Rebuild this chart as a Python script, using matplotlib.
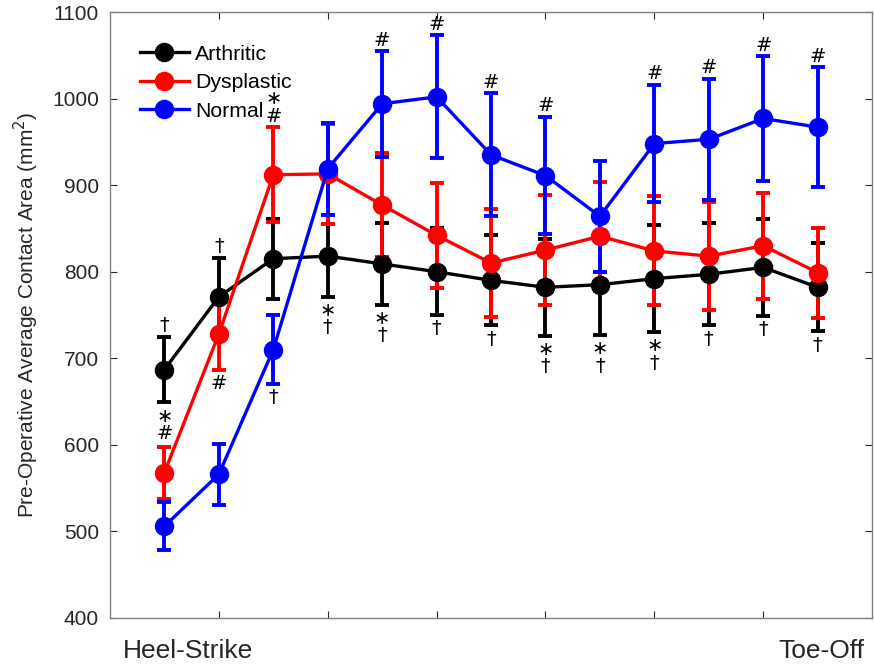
import matplotlib
matplotlib.use("Agg")
import matplotlib.pyplot as plt
from matplotlib.lines import Line2D
import numpy as np

plt.rcParams['font.family'] = ['Liberation Sans', 'DejaVu Sans']

# --- data ---
phase = np.arange(1, 14)

arthritic = [687, 771, 815, 818, 809, 800, 790, 782, 785, 792, 797, 805, 782]
arthritic_sd = [38, 45, 46, 47, 47, 50, 52, 56, 58, 62, 59, 56, 51]

dysplastic = [568, 728, 912, 913, 877, 842, 810, 825, 841, 824, 818, 830, 799]
dysplastic_sd = [30, 41, 55, 58, 60, 61, 62, 64, 63, 63, 62, 61, 52]

normal = [506, 566, 710, 919, 994, 1002, 935, 911, 864, 948, 953, 977, 967]
normal_sd = [28, 35, 40, 53, 61, 71, 71, 68, 64, 68, 70, 72, 69]

# significance marks: (phase index, text)
arthritic_above = [(1, "†"), (2, "†")]
arthritic_below = [(1, "∗\n#"), (4, "∗\n†"), (5, "∗\n†"), (6, "†"), (7, "†"),
                   (8, "∗\n†"), (9, "∗\n†"), (10, "∗\n†"), (11, "†"), (12, "†"), (13, "†")]
dysplastic_above = [(3, "∗\n#")]
dysplastic_below = [(2, "#")]
normal_above = [(5, "#"), (6, "#"), (7, "#"), (8, "#"), (10, "#"), (11, "#"), (12, "#"), (13, "#")]
normal_below = [(3, "†")]

fig = plt.figure(figsize=(8.75, 6.67), dpi=100)
ax = fig.add_axes([0.1257, 0.0735, 0.871, 0.9085])

series = [
    ("Arthritic", arthritic, arthritic_sd, "black", arthritic_above, arthritic_below),
    ("Dysplastic", dysplastic, dysplastic_sd, "#ff0000", dysplastic_above, dysplastic_below),
    ("Normal", normal, normal_sd, "#0000ff", normal_above, normal_below),
]

handles = []
for name, vals, sd, col, above, below in series:
    ax.errorbar(phase, vals, yerr=sd, color=col, marker='o', markersize=13,
                linewidth=2.4, elinewidth=2.8, capsize=5, capthick=2.8)
    handles.append(Line2D([], [], color=col, marker='o', markersize=13,
                          linewidth=2.4, label=name))
    for i, txt in above:
        ax.annotate(txt, (phase[i - 1], vals[i - 1] + sd[i - 1]), xytext=(0, 1),
                    textcoords='offset points', ha='center', va='bottom',
                    fontsize=14, linespacing=0.9, family='DejaVu Sans')
    for i, txt in below:
        ax.annotate(txt, (phase[i - 1], vals[i - 1] - sd[i - 1]), xytext=(0, -3),
                    textcoords='offset points', ha='center', va='top',
                    fontsize=14, linespacing=0.9, family='DejaVu Sans')

ax.set_xlim(0, 14)
ax.set_ylim(400, 1100)
ax.set_xticks([2, 4, 6, 8, 10, 12])
ax.set_xticklabels([])
ax.set_yticks(np.arange(400, 1101, 100))
ax.tick_params(direction='in', top=True, right=True, length=5, width=0.8,
               colors='#262626', labelsize=15, pad=8)
for sp in ax.spines.values():
    sp.set_color('#808080')
    sp.set_linewidth(1.0)

ax.set_ylabel("Pre-Operative Average Contact Area (mm$^{2}$)", fontsize=15,
              color='#262626', labelpad=8)

ax.text(1.43, -0.055, "Heel-Strike", transform=ax.get_xaxis_transform(),
        ha='center', va='center', fontsize=19, color='#262626')
ax.text(13.06, -0.055, "Toe-Off", transform=ax.get_xaxis_transform(),
        ha='center', va='center', fontsize=19, color='#262626')

ax.legend(handles=handles, loc='upper left', frameon=False, fontsize=15.3,
          handlelength=2.3, handletextpad=0.3, labelspacing=0.45,
          borderaxespad=0.0, borderpad=0.0, bbox_to_anchor=(0.039, 0.946))

fig.savefig("out.png", dpi=100)
